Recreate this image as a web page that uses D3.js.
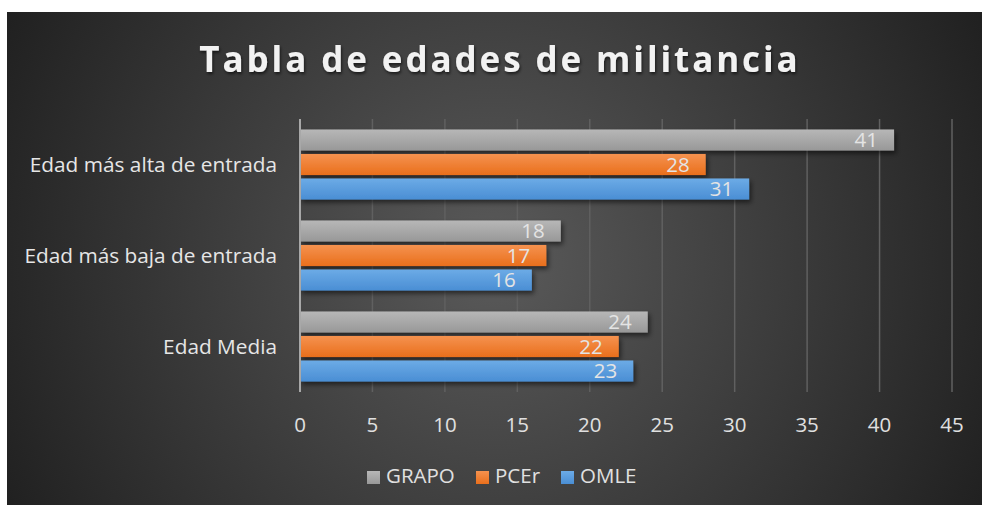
<!DOCTYPE html>
<html>
<head>
<meta charset="utf-8">
<script src="https://cdn.jsdelivr.net/npm/d3@7"></script>
<style>
html,body{margin:0;padding:0;background:#fff;}
svg{display:block;}
text{font-family:"Open Sans",sans-serif;}
</style>
</head>
<body>
<svg id="chart" width="982" height="506"></svg>
<script>
// ── Data ──
const categories=['Edad más alta de entrada','Edad más baja de entrada','Edad Media'];
const seriesNames=['GRAPO','PCEr','OMLE'];
const grapo=[41,18,24];
const pcer=[28,17,22];
const omle=[31,16,23];
const xTicks=[0,5,10,15,20,25,30,35,40,45];

const seriesValues=[grapo,pcer,omle];
const COL={
  GRAPO:['#b7b7b7','#989898'],
  PCEr:['#f5924f','#e96f1c'],
  OMLE:['#6cabe6','#4a8ed4']
};

const svg=d3.select('#chart');
const defs=svg.append('defs');

// background radial gradient
const bg=defs.append('radialGradient').attr('id','bg').attr('gradientUnits','userSpaceOnUse')
  .attr('cx',494).attr('cy',262).attr('r',560);
bg.append('stop').attr('offset','0').attr('stop-color','#5a5a5a');
bg.append('stop').attr('offset','1').attr('stop-color','#1f1f1f');

seriesNames.forEach(s=>{
  const g=defs.append('linearGradient').attr('id','g-'+s).attr('x1',0).attr('y1',0).attr('x2',0).attr('y2',1);
  g.append('stop').attr('offset','0').attr('stop-color',COL[s][0]);
  g.append('stop').attr('offset','1').attr('stop-color',COL[s][1]);
});
const sh=defs.append('filter').attr('id','shadow').attr('x','-10%').attr('y','-30%').attr('width','130%').attr('height','190%');
sh.append('feDropShadow').attr('dx',2).attr('dy',3).attr('stdDeviation',2.5).attr('flood-color','#000').attr('flood-opacity',0.55);
const tsh=defs.append('filter').attr('id','tshadow').attr('x','-10%').attr('y','-30%').attr('width','120%').attr('height','180%');
tsh.append('feDropShadow').attr('dx',1).attr('dy',2).attr('stdDeviation',1.5).attr('flood-color','#000').attr('flood-opacity',0.6);

svg.append('rect').attr('x',7).attr('y',12).attr('width',975).attr('height',493).attr('fill','url(#bg)');

// title
svg.append('text').attr('x',500).attr('y',72).attr('text-anchor','middle')
  .attr('font-size',35).attr('font-weight',700).attr('letter-spacing',2.9)
  .attr('fill','#f2f2f2').attr('filter','url(#tshadow)')
  .text('Tabla de edades de militancia');

// scales
const x=d3.scaleLinear().domain([0,45]).range([300,952]);
const y0=d3.scaleBand().domain(categories).range([119,392]).paddingInner(0.23).paddingOuter(0.115);
const y1=d3.scaleBand().domain(seriesNames).range([0,y0.bandwidth()]).paddingInner(0.14);

// gridlines
svg.append('g').selectAll('line').data(xTicks.filter(d=>d>0)).join('line')
  .attr('x1',d=>x(d)).attr('x2',d=>x(d)).attr('y1',119).attr('y2',392)
  .attr('stroke','#606060').attr('stroke-width',1.5);

// bars
const groups=svg.append('g').selectAll('g').data(categories).join('g')
  .attr('transform',c=>`translate(0,${y0(c)})`);
groups.each(function(c,ci){
  const g=d3.select(this);
  const rows=seriesNames.map((s,si)=>({s,v:seriesValues[si][ci]}));
  g.selectAll('rect').data(rows).join('rect')
    .attr('x',x(0)).attr('y',d=>y1(d.s)).attr('width',d=>x(d.v)-x(0)).attr('height',y1.bandwidth())
    .attr('fill',d=>`url(#g-${d.s})`).attr('filter','url(#shadow)');
  g.selectAll('text').data(rows).join('text')
    .attr('x',d=>x(d.v)-16).attr('y',d=>y1(d.s)+y1.bandwidth()/2).attr('dy','0.36em')
    .attr('text-anchor','end').attr('font-size',20.5).attr('fill','#e4e4e4')
    .text(d=>d.v);
});

// axis line at 0
svg.append('line').attr('x1',x(0)).attr('x2',x(0)).attr('y1',119).attr('y2',392)
  .attr('stroke','#a8a8a8').attr('stroke-width',2);

// category labels
svg.append('g').selectAll('text').data(categories).join('text')
  .attr('x',277).attr('y',c=>y0(c)+y0.bandwidth()/2).attr('dy','0.35em')
  .attr('text-anchor','end').attr('font-size',20.8).attr('fill','#e6e6e6').text(d=>d);

// x tick labels
svg.append('g').selectAll('text').data(xTicks).join('text')
  .attr('x',d=>x(d)).attr('y',432).attr('text-anchor','middle')
  .attr('font-size',20.5).attr('fill','#e0e0e0').text(d=>d);

// legend
const legX=[367,476,561];
const leg=svg.append('g').selectAll('g').data(seriesNames).join('g')
  .attr('transform',(d,i)=>`translate(${legX[i]},471)`);
leg.append('rect').attr('width',13).attr('height',13).attr('fill',d=>`url(#g-${d})`);
leg.append('text').attr('x',19).attr('y',12).attr('font-size',20.5).attr('fill','#e0e0e0').text(d=>d);
</script>
</body>
</html>
